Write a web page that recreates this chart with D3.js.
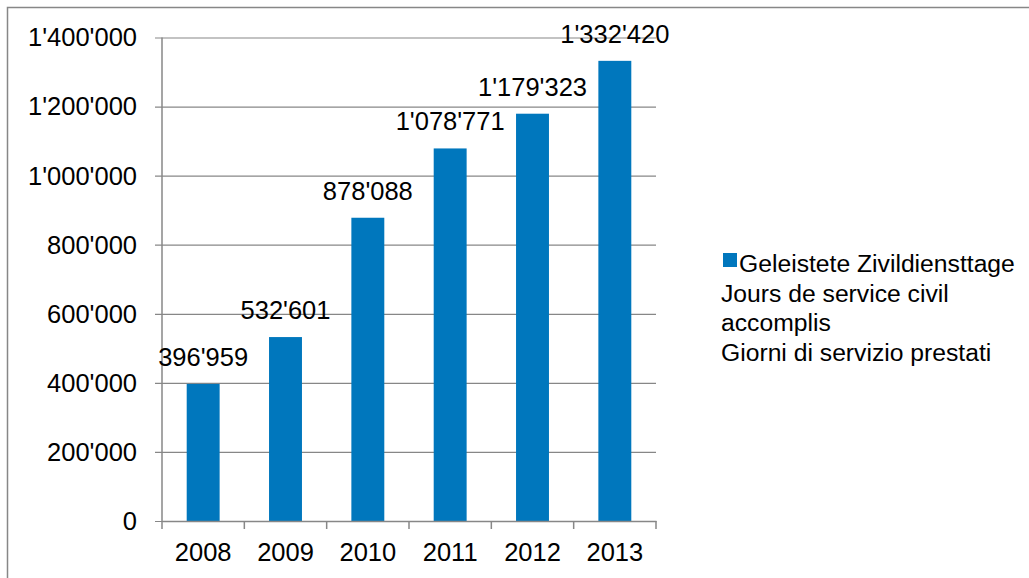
<!DOCTYPE html>
<html>
<head>
<meta charset="utf-8">
<script src="https://cdn.jsdelivr.net/npm/d3@7"></script>
<style>
  html, body { margin: 0; padding: 0; background: #fff; }
  svg { display: block; font-family: "Liberation Sans", Arial, sans-serif; }
</style>
</head>
<body>
<div id="chart"></div>
<script>
// ── Data ──────────────────────────────────────────────────────────────────
const YEARS = ['2008', '2009', '2010', '2011', '2012', '2013'];
const DAYS = [396959, 532601, 878088, 1078771, 1179323, 1332420];
const Y_TICKS = [0, 200000, 400000, 600000, 800000, 1000000, 1200000, 1400000];
const LEGEND_LINES = [
  'Geleistete Zivildiensttage',
  'Jours de service civil',
  'accomplis',
  'Giorni di servizio prestati'
];

const BAR_COLOR = '#0077bd';
const GRID_COLOR = '#878787';

const width = 1029, height = 578;
const margin = { top: 37.5, left: 162, right: 373, bottom: 57 };
const innerW = width - margin.left - margin.right;
const innerH = height - margin.top - margin.bottom;

// swiss thousands separator
const fmt = n => d3.format(',')(n).replace(/,/g, "'");

const svg = d3.select('#chart').append('svg')
  .attr('width', width)
  .attr('height', height);

// outer frame (runs off the right / bottom edge)
svg.append('rect')
  .attr('x', 7.5).attr('y', 7.5)
  .attr('width', width + 20).attr('height', height + 20)
  .attr('fill', 'none')
  .attr('stroke', GRID_COLOR)
  .attr('stroke-width', 1.5);

const g = svg.append('g')
  .attr('transform', `translate(${margin.left},${margin.top})`);

const x = d3.scaleBand()
  .domain(YEARS)
  .range([0, innerW])
  .paddingInner(0.6)
  .paddingOuter(0.3);

const y = d3.scaleLinear()
  .domain([0, 1400000])
  .range([innerH, 0]);

// y axis + grid
g.append('g')
  .call(d3.axisLeft(y).tickValues(Y_TICKS).tickSize(0).tickPadding(25).tickFormat(fmt))
  .call(ax => ax.select('.domain').remove())
  .call(ax => ax.selectAll('text')
    .attr('font-size', 25.5)
    .attr('fill', '#000')
    .attr('font-family', '"Liberation Sans", Arial, sans-serif')
    .attr('dy', '0.33em'));

g.append('g')
  .call(d3.axisLeft(y).tickValues(Y_TICKS).tickSize(-innerW - 7).tickFormat(''))
  .attr('transform', 'translate(-7,0)')
  .call(ax => ax.select('.domain').remove())
  .call(ax => ax.selectAll('.tick line').attr('stroke', GRID_COLOR).attr('stroke-width', 1.2));

g.append('line')
  .attr('x1', 0).attr('x2', 0)
  .attr('y1', 0).attr('y2', innerH)
  .attr('stroke', GRID_COLOR).attr('stroke-width', 1.5);

// bars
g.selectAll('.bar')
  .data(DAYS)
  .enter()
  .append('rect')
  .attr('class', 'bar')
  .attr('x', (d, i) => x(YEARS[i]))
  .attr('y', d => y(d))
  .attr('width', x.bandwidth())
  .attr('height', d => innerH - y(d))
  .attr('fill', BAR_COLOR);

// x axis
const xAxis = g.append('g')
  .attr('transform', `translate(0,${innerH})`)
  .call(d3.axisBottom(x).tickSize(0).tickPadding(22))
  .call(ax => ax.select('.domain').attr('stroke', GRID_COLOR).attr('stroke-width', 1.5))
  .call(ax => ax.selectAll('text')
    .attr('font-size', 25.5)
    .attr('fill', '#000')
    .attr('font-family', '"Liberation Sans", Arial, sans-serif'));

// category boundary ticks
const edges = [0].concat(YEARS.map(c => x(c) - x.step() * x.paddingOuter() + x.step()));
xAxis.selectAll('.edge')
  .data(edges)
  .enter()
  .append('line')
  .attr('class', 'edge')
  .attr('x1', d => d).attr('x2', d => d)
  .attr('y1', 0).attr('y2', 8)
  .attr('stroke', GRID_COLOR).attr('stroke-width', 1.5);

// value labels
g.selectAll('.val')
  .data(DAYS)
  .enter()
  .append('text')
  .attr('class', 'val')
  .attr('x', (d, i) => x(YEARS[i]) + x.bandwidth() / 2)
  .attr('y', d => y(d) - 18)
  .attr('text-anchor', 'middle')
  .attr('font-size', 25.5)
  .attr('fill', '#000')
  .text(fmt);

// legend
const legend = svg.append('g');
legend.append('rect')
  .attr('x', 723).attr('y', 253)
  .attr('width', 14).attr('height', 14)
  .attr('fill', BAR_COLOR);
legend.selectAll('text')
  .data(LEGEND_LINES)
  .enter()
  .append('text')
  .attr('x', (d, i) => i === 0 ? 739 : 721)
  .attr('y', (d, i) => 272 + i * 29.5)
  .attr('font-size', 24.7)
  .attr('fill', '#000')
  .text(d => d);
</script>
</body>
</html>
